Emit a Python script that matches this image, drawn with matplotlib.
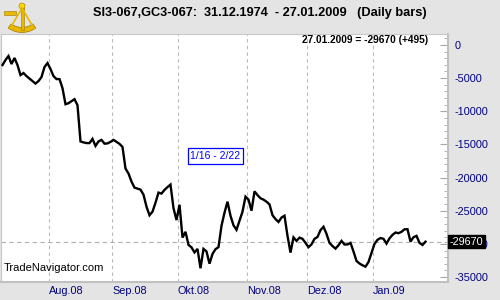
import numpy as np
import matplotlib
matplotlib.use("Agg")
import matplotlib.pyplot as plt
from matplotlib.patches import Wedge, Rectangle, Circle
from matplotlib.ticker import MultipleLocator

plt.rcParams['font.family'] = ['Liberation Sans', 'DejaVu Sans']

# Daily closes SI3-067,GC3-067 spread, 10.07.2008 - 27.01.2009
closes = [-3030, -2270, -1670, -2880, -1970, -3030, -4550, -4240, -4700, -5080,
          -5450, -5830, -5450, -4850, -3330, -2730, -3640, -4700, -5150, -5150,
          -6520, -8940, -8790, -8480, -8180, -9090, -14550, -14700, -14800, -14800,
          -14170, -15230, -14550, -14320, -14890, -14850, -14620, -14320, -14620, -14920,
          -15380, -18640, -19390, -20610, -21520, -21670, -21820, -22580, -24390, -25680,
          -25150, -23790, -22270, -22420, -21860, -21440, -21060, -24620, -26410, -24090,
          -29050, -28180, -30150, -30530, -31290, -30760, -33680, -30760, -31140, -32990,
          -31520, -30800, -30490, -27270, -25300, -23640, -25760, -27200, -27880, -26520,
          -25150, -22880, -23330, -25000, -22080, -22650, -23120, -23330, -23640, -24050,
          -25680, -26260, -26700, -26030, -25760, -28790, -31320, -29020, -29550, -29060,
          -29240, -29850, -30500, -30080, -29240, -28960, -27920, -27420, -28490, -29850,
          -30330, -30710, -30210, -29550, -30090, -30090, -29850, -31150, -32580, -32960,
          -33230, -33440, -32730, -31360, -30000, -29390, -29120, -29240, -29960, -29170,
          -28640, -28290, -28390, -28180, -27800, -27800, -29650, -29000, -28790, -29850,
          -30165, -29670]
# index of first trading day of each month
month_start = [16, 37, 59, 82, 102, 124]
month_labels = ["Aug.08", "Sep.08", "Okt.08", "Nov.08", "Dez.08", "Jan.09"]
y_ticks = [0, -5000, -10000, -15000, -20000, -25000, -30000, -35000]

last = closes[-1]
change = closes[-1] - closes[-2]

bg = '#e4e4e4'
navy = '#000080'

fig = plt.figure(figsize=(5, 3), dpi=100, facecolor=bg)
ax = fig.add_axes([0.002, 0.06, 0.894, 0.8267])
ax.set_facecolor('white')

x = np.arange(len(closes))
ax.plot(x, closes, color='black', linewidth=1.7, solid_joinstyle='miter', zorder=3)

ax.set_xlim(-0.5, 148.5)
ax.set_ylim(-35750, 1650)

# month grid and labels
grid_pos = [m - 0.5 for m in month_start]
ax.set_xticks(grid_pos)
ax.set_xticklabels(month_labels, ha='left', color=navy, fontsize=7.8)
ax.tick_params(axis='x', length=0, pad=3)
ax.grid(axis='x', color='#b8b8b8', linestyle=(0, (3, 3)), linewidth=0.8)

# last value line
ax.axhline(last, color='#b0b0b0', linestyle=(0, (4, 3)), linewidth=0.8)

# right axis
ax.yaxis.tick_right()
ax.set_yticks(y_ticks)
ax.set_yticklabels([str(v) for v in y_ticks], color=navy, fontsize=7.8)
ax.yaxis.set_minor_locator(MultipleLocator(1000))
ax.tick_params(axis='y', which='major', direction='in', length=6, color='#a8a8a8', pad=5)
ax.tick_params(axis='y', which='minor', direction='in', length=3, color='#a8a8a8')

for side in ['top', 'left']:
    ax.spines[side].set_color('#c8c8c8')
    ax.spines[side].set_linewidth(0.8)
for side in ['right', 'bottom']:
    ax.spines[side].set_color('#c0c0c0')
    ax.spines[side].set_linewidth(1.5)

# last value tag (covers most of the -30000 label, as in the original)
ax.annotate(str(last), xy=(1.0, last), xycoords=('axes fraction', 'data'),
            xytext=(1, 0), textcoords='offset points', ha='left', va='center',
            color='white', fontsize=7.8, zorder=10,
            bbox=dict(boxstyle='square,pad=0.15', facecolor='black', edgecolor='black'))

# texts
ax.text(0.48, 0.508, "1/16 - 2/22", transform=ax.transAxes, ha='center', va='center',
        color='#0000ff', fontsize=7.5,
        bbox=dict(boxstyle='square,pad=0.25', facecolor='white', edgecolor='#0000ff', linewidth=0.9))
ax.text(0.006, 0.035, "TradeNavigator.com", transform=ax.transAxes, ha='left', va='bottom',
        color='black', fontsize=8)
fig.text(0.856, 0.867, "27.01.2009 = %d (%+d)" % (last, change), ha='right', va='center',
         fontsize=7.3, fontweight='bold', color='black')
fig.text(0.52, 0.958, "SI3-067,GC3-067:  31.12.1974  - 27.01.2009   (Daily bars)",
         ha='center', va='center', fontsize=9.2, fontweight='bold', color='black')

# rough logo (sextant)
lg = fig.add_axes([0.0, 0.885, 0.08, 0.115])
lg.set_xlim(0, 40)
lg.set_ylim(34, 0)
lg.axis('off')
gold = '#e8b800'
lg.add_patch(Wedge((22, 8), 24, 55, 125, width=5, facecolor=gold, edgecolor='#a07800', linewidth=0.5))
lg.add_patch(Rectangle((20.5, 4), 3, 26, facecolor=gold, edgecolor='#a07800', linewidth=0.4))
lg.add_patch(Rectangle((4, 11), 12, 4, facecolor=gold, edgecolor='#a07800', linewidth=0.4))
lg.add_patch(Circle((22, 6), 3, facecolor='#ffd800', edgecolor='#a07800', linewidth=0.4))
lg.plot([22, 10], [8, 28], color=gold, linewidth=1.2)
lg.plot([22, 34], [8, 28], color=gold, linewidth=1.2)

fig.savefig("out.png", dpi=100, facecolor=bg)
